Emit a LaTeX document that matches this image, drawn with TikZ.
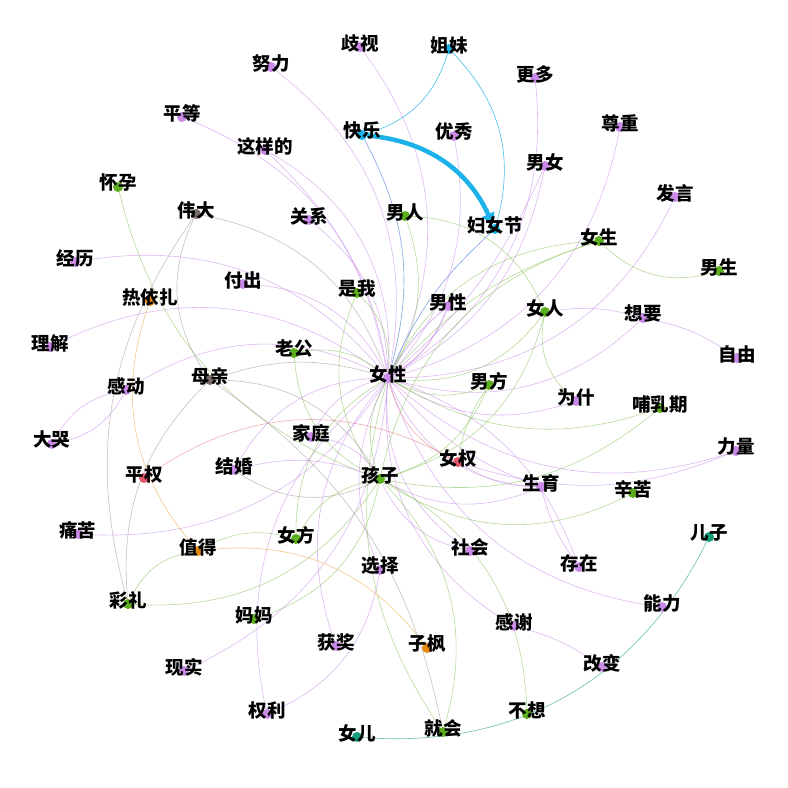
\documentclass[tikz,border=0pt]{standalone}
\usepackage{fontspec}
\newfontfamily\cjk{Noto Sans CJK SC}
\usetikzlibrary{arrows.meta}
\pgfdeclarelayer{bg}
\pgfsetlayers{bg,main}
\definecolor{cP}{HTML}{C98AE8}
\definecolor{cG}{HTML}{5DAF1E}
\definecolor{cC}{HTML}{1AB2E8}
\definecolor{cGr}{HTML}{7A6B6B}
\definecolor{cO}{HTML}{E8890C}
\definecolor{cR}{HTML}{E5566B}
\definecolor{cT}{HTML}{169E7C}
\definecolor{cB}{HTML}{5F8FE0}
\tikzset{
  dot/.style={circle, fill=#1, inner sep=0pt, minimum size=10pt},
  lab/.style={inner sep=0pt, font=\cjk\bfseries\fontsize{18.5}{18.5}\selectfont, text=black},
  e/.style={line width=0.6pt, draw opacity=0.6},
  eP/.style={e, draw=cP},
  eG/.style={e, draw=cG!75},
  eC/.style={e, draw=cC, draw opacity=0.8},
  eB/.style={e, draw=cB, draw opacity=0.8},
  eGr/.style={e, draw=cGr!70},
  eO/.style={e, draw=cO!80},
  eR/.style={e, draw=cR!80},
  eT/.style={e, draw=cT!80, draw opacity=0.8},
}
\newcommand\wn[5]{\node[dot=#4] (#1) at (#2,#3) {}; \node[lab] (#1-t) at (#2,#3-4) {#5};}
\newcommand\ed[4]{\draw[#1] (#2) to[bend left=#4] (#3);}
\begin{document}
\begin{tikzpicture}[x=1pt,y=-1pt]
\useasboundingbox (0,0) rectangle (788,788);
% nodes
\wn{nvx}{388}{378}{cP}{女性}
\wn{qs}{360}{47}{cP}{歧视}
\wn{nl}{271}{67}{cP}{努力}
\wn{pd}{182}{117}{cP}{平等}
\wn{zyd}{265}{150}{cP}{这样的}
\wn{gx}{309}{220}{cP}{关系}
\wn{kl}{362}{135}{cC}{快乐}
\wn{jm}{449}{49}{cC}{姐妹}
\wn{gd}{535}{78}{cP}{更多}
\wn{yx}{454}{136}{cP}{优秀}
\wn{nn}{545}{166}{cP}{男女}
\wn{zz}{620}{127}{cP}{尊重}
\wn{fy}{675}{197}{cP}{发言}
\wn{fnj}{495}{229}{cC}{妇女节}
\wn{nr}{405}{216}{cG}{男人}
\wn{ns}{599}{241}{cG}{女生}
\wn{nsh}{719}{271}{cG}{男生}
\wn{wd}{196}{214}{cGr}{伟大}
\wn{hy}{118}{187}{cG}{怀孕}
\wn{jl}{75}{262}{cP}{经历}
\wn{ryz}{150}{301}{cO}{热依扎}
\wn{fc}{243}{284}{cP}{付出}
\wn{sw}{357}{293}{cG}{是我}
\wn{nx}{448}{306}{cP}{男性}
\wn{nvr}{545}{312}{cG}{女人}
\wn{xy}{643}{318}{cP}{想要}
\wn{zy}{737}{358}{cP}{自由}
\wn{lj}{50}{347}{cP}{理解}
\wn{lg}{294}{353}{cG}{老公}
\wn{mq}{210}{380}{cGr}{母亲}
\wn{gdo}{126}{390}{cP}{感动}
\wn{nf}{489}{385}{cG}{男方}
\wn{ws}{576}{401}{cP}{为什}
\wn{brq}{660}{408}{cG}{哺乳期}
\wn{dk}{52}{444}{cP}{大哭}
\wn{jt}{311}{437}{cP}{家庭}
\wn{pq}{144}{478}{cR}{平权}
\wn{jh}{234}{470}{cP}{结婚}
\wn{hz}{380}{479}{cG}{孩子}
\wn{nq}{458}{462}{cR}{女权}
\wn{sy}{541}{487}{cP}{生育}
\wn{xk}{633}{493}{cG}{辛苦}
\wn{ll}{736}{451}{cP}{力量}
\wn{tk}{78}{534}{cP}{痛苦}
\wn{zd}{198}{551}{cO}{值得}
\wn{nfa}{296}{539}{cG}{女方}
\wn{xz}{380}{570}{cP}{选择}
\wn{sh}{470}{551}{cP}{社会}
\wn{cz}{579}{567}{cP}{存在}
\wn{ez}{709}{537}{cT}{儿子}
\wn{cl}{128}{604}{cG}{彩礼}
\wn{mm}{254}{619}{cG}{妈妈}
\wn{hj}{336}{646}{cP}{获奖}
\wn{zf}{427}{648}{cO}{子枫}
\wn{gxie}{514}{626}{cP}{感谢}
\wn{nli}{662}{607}{cP}{能力}
\wn{gb}{602}{667}{cP}{改变}
\wn{xs}{184}{671}{cP}{现实}
\wn{qli}{267}{714}{cP}{权利}
\wn{ne}{357}{737}{cT}{女儿}
\wn{jhui}{443}{732}{cG}{就会}
\wn{bx}{527}{714}{cG}{不想}
\begin{pgfonlayer}{bg}
\fill[white] (0,0) rectangle (788,788);
% purple to hub
\ed{eP}{qs}{nvx}{32}
\ed{eP}{nl}{nvx}{32}
\ed{eP}{pd}{nvx}{30}
\ed{eP}{zyd}{nvx}{32}
\ed{eP}{zyd}{nvx}{18}
\ed{eP}{gx}{nvx}{25}
\ed{eP}{yx}{nvx}{25}
\ed{eP}{gd}{nvx}{32}
\ed{eP}{nn}{nvx}{25}
\ed{eP}{nn}{nvx}{12}
\ed{eP}{zz}{nvx}{32}
\ed{eP}{fy}{nvx}{32}
\ed{eP}{jl}{nvx}{30}
\ed{eP}{fc}{nvx}{30}
\ed{eP}{lj}{nvx}{32}
\ed{eP}{gdo}{nvx}{30}
\ed{eP}{ws}{nvx}{25}
\ed{eP}{jt}{nvx}{25}
\ed{eP}{jh}{nvx}{30}
\ed{eP}{sy}{nvx}{32}
\ed{eP}{sy}{nvx}{15}
\ed{eP}{ll}{nvx}{30}
\ed{eP}{xz}{nvx}{25}
\ed{eP}{sh}{nvx}{30}
\ed{eP}{gxie}{nvx}{32}
\ed{eP}{nli}{nvx}{32}
\ed{eP}{hj}{nvx}{30}
\ed{eP}{qli}{nvx}{32}
\ed{eP}{xy}{nvx}{30}
\ed{eP}{nvx}{xs}{30}
\ed{eP}{nvx}{tk}{30}
\ed{eP}{nvx}{cz}{25}
\draw[eP, line width=1.2pt] (nx) to[bend left=18] (nvx);
\draw[eP, line width=0.9pt] (nx) to[bend right=10] (nvx);
% green to hub
\ed{eG}{nr}{nvx}{25}
\ed{eG}{nvx}{ns}{30}
\ed{eG}{nvx}{ns}{15}
\ed{eG}{sw}{nvx}{25}
\ed{eG}{nvr}{nvx}{30}
\ed{eG}{lg}{nvx}{25}
\ed{eG}{nf}{nvx}{25}
\ed{eG}{hz}{nvx}{25}
\ed{eG}{nfa}{nvx}{30}
\ed{eG}{jhui}{nvx}{25}
\ed{eG}{brq}{nvx}{25}
\ed{eGr}{wd}{nvx}{30}
\ed{eGr}{mq}{nvx}{18}
\ed{eR}{nq}{nvx}{25}
\ed{eB}{kl}{nvx}{22}
\ed{eB}{fnj}{nvx}{-12}
% around kids
\ed{eG}{hz}{hy}{28}
\ed{eG}{hz}{lg}{30}
\ed{eG}{hz}{sw}{30}
\ed{eP}{jt}{hz}{25}
\ed{eGr}{mq}{hz}{30}
\ed{eP}{jh}{hz}{18}
\ed{eGr}{hz}{jh}{30}
\ed{eG}{brq}{hz}{25}
\ed{eG}{xk}{hz}{30}
\ed{eP}{sy}{hz}{25}
\ed{eG}{hz}{cl}{30}
\ed{eG}{hz}{mm}{30}
\ed{eG}{nfa}{hz}{25}
\ed{eG}{hz}{jhui}{30}
\ed{eG}{hz}{bx}{30}
\ed{eG}{nvr}{hz}{30}
\ed{eG}{nf}{hz}{25}
\ed{eG}{ns}{hz}{-30}
\ed{eP}{sh}{hz}{25}
% others
\ed{eC}{jm}{kl}{28}
\ed{eC}{jm}{fnj}{30}
\ed{eG}{nr}{nvr}{32}
\ed{eG}{ns}{nsh}{-30}
\ed{eG}{ws}{nvr}{30}
\ed{eP}{nvr}{xy}{12}
\ed{eP}{xy}{zy}{12}
\ed{eG}{nf}{nq}{-12}
\ed{eGr}{mq}{wd}{30}
\ed{eO}{zd}{ryz}{30}
\ed{eO}{zd}{zf}{30}
\ed{eG}{zd}{nfa}{22}
\ed{eG}{cl}{zd}{28}
\ed{eGr}{cl}{mq}{25}
\ed{eGr}{cl}{wd}{25}
\ed{eP}{gdo}{dk}{25}
\ed{eP}{dk}{gdo}{25}
\ed{eR}{pq}{nq}{32}
\ed{eP}{nq}{sy}{-15}
\ed{eP}{ll}{nq}{20}
\ed{eP}{cz}{sy}{10}
\ed{eP}{gxie}{gb}{10}
\ed{eP}{xz}{qli}{28}
\ed{eGr}{mq}{jhui}{22}
\ed{eT}{ez}{ne}{34}
% arrow
\draw[cC, line width=4.5pt, -{Triangle[length=11pt,width=13pt]}] (kl) to[bend left=30] (fnj);
\end{pgfonlayer}
\end{tikzpicture}
\end{document}
